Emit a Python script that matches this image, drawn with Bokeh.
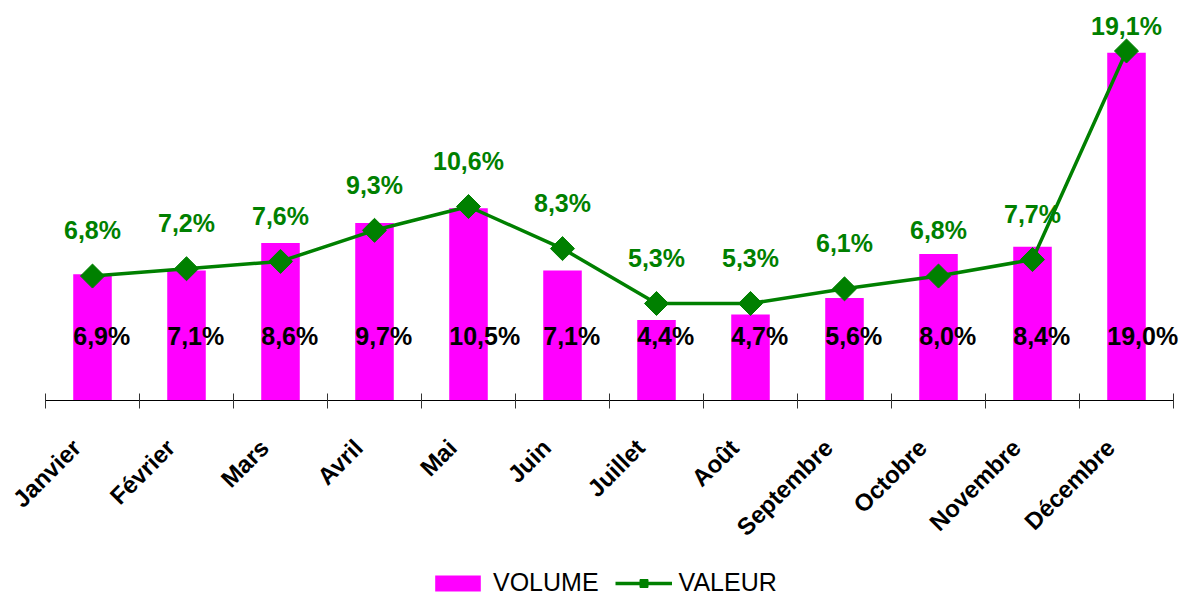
import math
from bokeh.plotting import figure
from bokeh.models import (ColumnDataSource, Range1d, LinearAxis, FixedTicker,
                          Legend, LegendItem)
from bokeh.core.properties import value
from bokeh.embed import file_html
from bokeh.resources import INLINE

months = ["Janvier", "Février", "Mars", "Avril", "Mai", "Juin", "Juillet",
          "Août", "Septembre", "Octobre", "Novembre", "Décembre"]
volume = [6.9, 7.1, 8.6, 9.7, 10.5, 7.1, 4.4, 4.7, 5.6, 8.0, 8.4, 19.0]
valeur = [6.8, 7.2, 7.6, 9.3, 10.6, 8.3, 5.3, 5.3, 6.1, 6.8, 7.7, 19.1]


def pct(v):
    return f"{v:.1f}".replace(".", ",") + "%"


n = len(months)
BAR_W = 0.41
xs = [i + 0.5 for i in range(n)]
X_START, X_END = -0.4787, n + 0.1064
Y_TOP = 21.86
Y_BOTTOM = -10.66
LABEL_SHIFT = -0.17   # month labels sit slightly left of the bar centres

src = ColumnDataSource(dict(
    x=xs, month=months, volume=volume, valeur=valeur,
    bar_left=[x - BAR_W / 2 for x in xs],
    vol_lab=[pct(v) for v in volume],
    val_lab=[pct(v) for v in valeur],
    vol_y=[3.5] * n,
    val_y=[min(v + 2.5, Y_TOP - 1.37) for v in valeur],
))

FONT = "Liberation Sans"
MAGENTA = "#FF00FF"
GREEN = "#008000"

p = figure(width=1183, height=595, output_backend="svg", toolbar_location=None,
           x_range=Range1d(X_START, X_END), y_range=Range1d(Y_BOTTOM, Y_TOP),
           x_axis_type=None, y_axis_type=None,
           min_border_left=0, min_border_right=0, min_border_top=0,
           min_border_bottom=0)
p.outline_line_color = None
p.background_fill_color = "white"

bars = p.vbar(x="x", top="volume", bottom=0, width=BAR_W, source=src,
              fill_color=MAGENTA, line_color=None)
line = p.line("x", "valeur", source=src, line_color=GREEN, line_width=3.5)
pts = p.scatter("x", "valeur", source=src, marker="square", angle=math.pi / 4,
                size=17, fill_color=GREEN, line_color=GREEN)

p.text("bar_left", "vol_y", text="vol_lab", source=src, text_font=value(FONT),
       text_font_style="bold", text_font_size="25px", text_align="left",
       text_baseline="middle", text_color="black")
p.text("x", "val_y", text="val_lab", source=src, text_font=value(FONT),
       text_font_style="bold", text_font_size="25px", text_align="center",
       text_baseline="middle", text_color=GREEN)

label_ticks = [x + LABEL_SHIFT for x in xs]
ax = LinearAxis(
    fixed_location=0,
    bounds=(0, n),
    ticker=FixedTicker(ticks=label_ticks, minor_ticks=list(range(n + 1))),
    major_label_overrides={t: m for t, m in zip(label_ticks, months)},
    major_label_orientation=math.pi / 4,
    major_label_text_font=FONT,
    major_label_text_font_style="bold",
    major_label_text_font_size="24px",
    major_label_text_color="black",
    major_label_standoff=35,
    major_tick_in=0, major_tick_out=0, major_tick_line_color=None,
    minor_tick_in=7, minor_tick_out=8, minor_tick_line_color="#333333",
    axis_line_color="black", axis_line_width=1,
)
p.add_layout(ax, "below")

legend = Legend(
    items=[LegendItem(label="VOLUME", renderers=[bars]),
           LegendItem(label="VALEUR", renderers=[line, pts])],
    orientation="horizontal", location=(429, -2), padding=0, margin=0,
    spacing=16, glyph_width=57, glyph_height=20, label_standoff=7,
    label_text_font=FONT, label_text_font_size="25px",
    label_text_color="black",
    border_line_color=None, background_fill_alpha=0,
)
p.add_layout(legend)

open("out.html", "w").write(file_html(p, INLINE))
